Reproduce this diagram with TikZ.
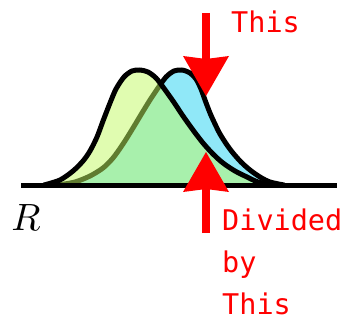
\documentclass[tikz,border=0pt]{standalone}
\usepackage{fontspec}
\newfontfamily\monofont{DejaVu Sans Mono}
\usetikzlibrary{arrows.meta}
\definecolor{bumpgreen}{RGB}{193,249,97}
\definecolor{bumpcyan}{RGB}{144,232,248}
\tikzset{
  bump/.style={line width=5pt, line join=round, line cap=round},
  pointer/.style={red, line width=8pt, -{Stealth[length=40pt, width=46pt, inset=3pt, line width=0pt]}},
  redtext/.style={red, inner sep=0pt, font=\monofont\fontsize{28.5}{42}\selectfont}
}
\begin{document}
\begin{tikzpicture}[x=1pt, y=-1pt]
  \useasboundingbox (0,0) rectangle (354,321);
  % cyan bump, behind
  \fill[bumpcyan] plot[smooth] coordinates {(58,185) (75,182) (90,176) (103,168) (113,158) (123,144) (133,128) (142,113) (150,100) (158,88) (166,77) (174,71) (182,70) (190,73) (196,79) (201,89) (205,100) (210,113) (215,124) (220,134) (227,145) (233,153) (241,162) (250,170) (260,177) (270,182) (284,185)} -- cycle;
  \draw[bump] plot[smooth] coordinates {(58,185) (75,182) (90,176) (103,168) (113,158) (123,144) (133,128) (142,113) (150,100) (158,88) (166,77) (174,71) (182,70) (190,73) (196,79) (201,89) (205,100) (210,113) (215,124) (220,134) (227,145) (233,153) (241,162) (250,170) (260,177) (270,182) (284,185)};
  % green bump on top
  \fill[bumpgreen, fill opacity=0.5] plot[smooth] coordinates {(44,185) (60,180) (73,171) (83,161) (90,151) (97,137) (103,121) (110,103) (116,89) (124,77) (132,71) (140,70) (148,72) (156,78) (163,87) (173,101) (183,116) (193,130) (203,143) (213,154) (223,163) (235,171) (247,177) (258,182) (272,185)} -- cycle;
  \draw[bump] plot[smooth] coordinates {(44,185) (60,180) (73,171) (83,161) (90,151) (97,137) (103,121) (110,103) (116,89) (124,77) (132,71) (140,70) (148,72) (156,78) (163,87) (173,101) (183,116) (193,130) (203,143) (213,154) (223,163) (235,171) (247,177) (258,182) (272,185)};
  \coordinate (left) at (21,185);
  \coordinate (right) at (337,185);
  \draw[line width=5pt] (left) -- (right);
  \node[anchor=base, inner sep=0pt, scale=3.8] (R) at (26,230) {$R$};
  \coordinate (topstart) at (206,13);
  \coordinate (toptip) at (206,96);
  \coordinate (botstart) at (206,233);
  \coordinate (bottip) at (206,152);
  \draw[pointer] (topstart) -- (toptip);
  \draw[pointer] (botstart) -- (bottip);
  \node[redtext, anchor=base west] (this) at (231,33) {This};
  \node[redtext, anchor=north west, align=left] (divided) at (222,209) {Divided\\by\\This};
\end{tikzpicture}
\end{document}
